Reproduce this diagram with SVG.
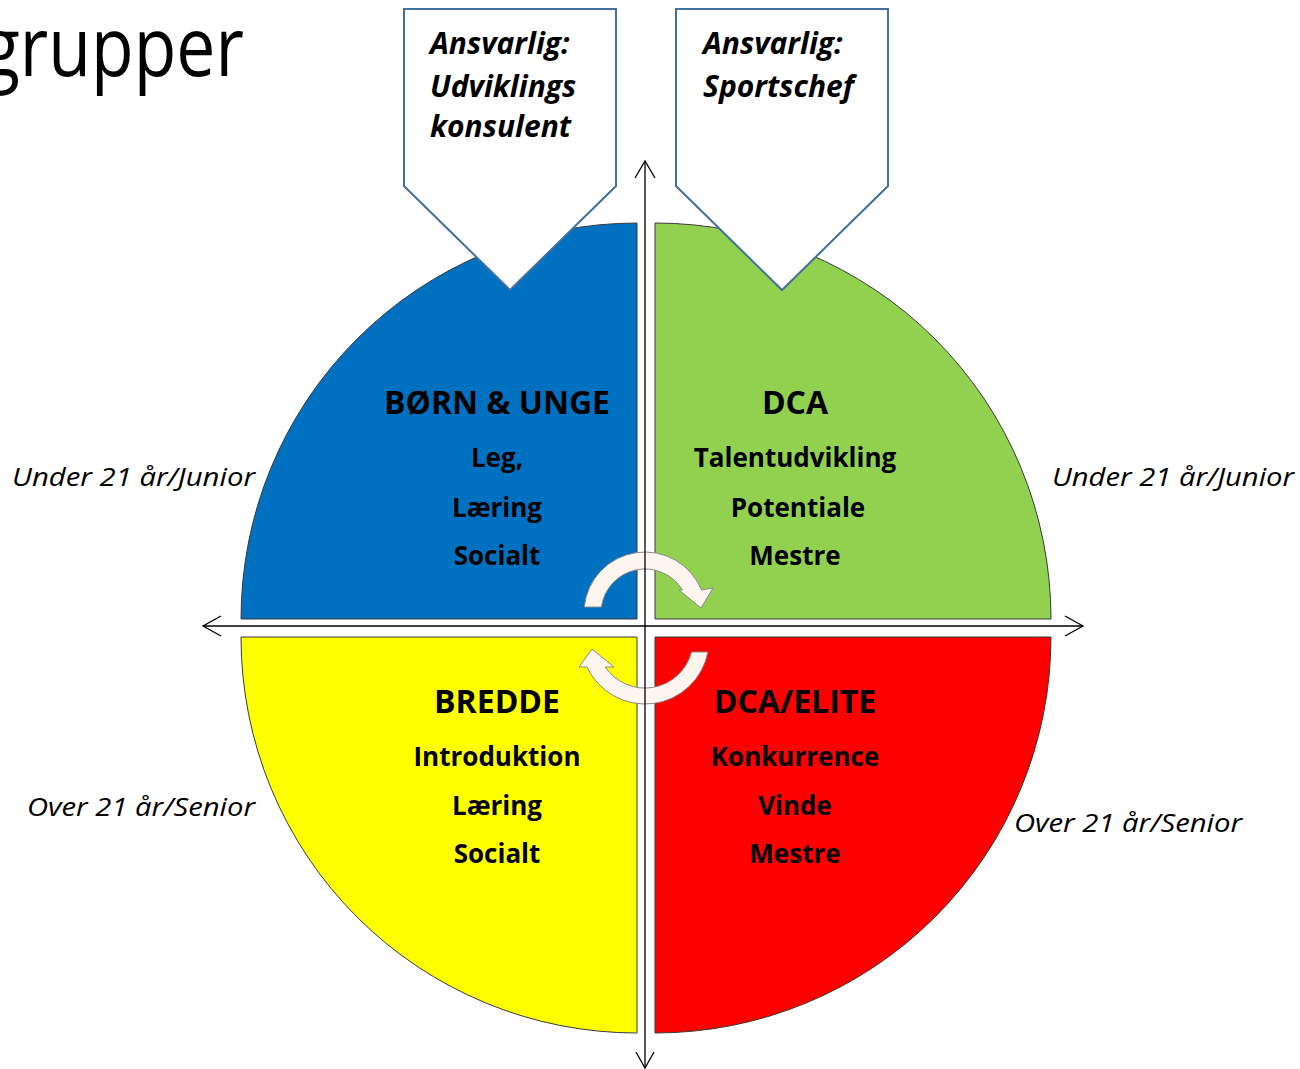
<svg xmlns="http://www.w3.org/2000/svg" width="1300" height="1069" viewBox="0 0 1300 1069">
<defs>
<style>
.q{stroke:#3a3a3a;stroke-width:1}
.qt{font-family:"Open Sans","Liberation Sans",sans-serif;font-weight:bold;fill:#000;text-anchor:middle}
.h{font-size:32px}
.b{font-size:26px}
.side{font-family:"Open Sans","Liberation Sans",sans-serif;font-style:italic;font-size:26px;fill:#000}
.call{fill:#fff;stroke:#41719C;stroke-width:2}
.ct{font-family:"Open Sans","Liberation Sans",sans-serif;font-style:italic;font-weight:bold;font-size:30px;fill:#000}
.ax{stroke:#000;stroke-width:1.3;fill:none}
.cyc{fill:#FDF6EE;stroke:#8a8a8a;stroke-width:1}
</style>
</defs>
<rect width="1300" height="1069" fill="#fff"/>
<g id="title"><text x="-18" y="76" font-family="Open Sans, Liberation Sans, sans-serif" font-size="82" textLength="262" lengthAdjust="spacingAndGlyphs" fill="#000">grupper</text></g>

<g id="q-born">
<path class="q" d="M637,619 L241,619 A396,396 0 0 1 637,223 Z" fill="#0070C0"/>
<text class="qt h" x="497" y="414">BØRN &amp; UNGE</text>
<text class="qt b" x="497" y="467">Leg,</text>
<text class="qt b" x="497" y="517">Læring</text>
<text class="qt b" x="497" y="565">Socialt</text>
</g>
<g id="q-dca">
<path class="q" d="M655,619 L655,223 A396,396 0 0 1 1051,619 Z" fill="#92D050"/>
<text class="qt h" x="795" y="414">DCA</text>
<text class="qt b" x="795" y="467">Talentudvikling</text>
<text class="qt b" x="798" y="517">Potentiale</text>
<text class="qt b" x="795" y="565">Mestre</text>
</g>
<g id="q-bredde">
<path class="q" d="M637,637 L637,1033 A396,396 0 0 1 241,637 Z" fill="#FFFF00"/>
<text class="qt h" x="497" y="713">BREDDE</text>
<text class="qt b" x="497" y="766">Introduktion</text>
<text class="qt b" x="497" y="815">Læring</text>
<text class="qt b" x="497" y="863">Socialt</text>
</g>
<g id="q-elite">
<path class="q" d="M655,637 L1051,637 A396,396 0 0 1 655,1033 Z" fill="#FF0000"/>
<text class="qt h" x="795" y="713">DCA/ELITE</text>
<text class="qt b" x="795" y="766">Konkurrence</text>
<text class="qt b" x="795" y="815">Vinde</text>
<text class="qt b" x="795" y="863">Mestre</text>
</g>

<g id="callout-left">
<polygon class="call" points="404,9 616,9 616,186 510,290 404,186"/>
<text class="ct" x="430" y="54">Ansvarlig:</text>
<text class="ct" x="430" y="97">Udviklings</text>
<text class="ct" x="430" y="137">konsulent</text>
</g>
<g id="callout-right">
<polygon class="call" points="676,9 888,9 888,186 782,290 676,186"/>
<text class="ct" x="703" y="54">Ansvarlig:</text>
<text class="ct" x="703" y="97">Sportschef</text>
</g>

<g id="labels">
<text class="side" x="12" y="486" textLength="243" lengthAdjust="spacingAndGlyphs">Under 21 år/Junior</text>
<text class="side" x="1052" y="486" textLength="242" lengthAdjust="spacingAndGlyphs">Under 21 år/Junior</text>
<text class="side" x="27" y="816" textLength="228" lengthAdjust="spacingAndGlyphs">Over 21 år/Senior</text>
<text class="side" x="1014" y="832" textLength="228" lengthAdjust="spacingAndGlyphs">Over 21 år/Senior</text>
</g>

<g id="connectors">
<path class="cyc" d="M584.3,607 A61,61 0 0 1 701.5,590 L713,588 L701,608 L679,590 L682.5,590 A44,44 0 0 0 601.4,607 Z"/>
<path class="cyc" d="M707.9,652 A64,64 0 0 1 587,667 L579,667 L592,649 L614,667 L605.3,667 A48,48 0 0 0 691.5,652 Z"/>
<line class="ax" x1="203" y1="626" x2="1083" y2="626"/>
<polyline class="ax" points="221,616 203,626 221,636"/>
<polyline class="ax" points="1065,616 1083,626 1065,636"/>
<line class="ax" x1="645" y1="161" x2="645" y2="1068"/>
<polyline class="ax" points="635,178 645,161 655,178"/>
<polyline class="ax" points="636,1052 645,1068 654,1052"/>
</g>
</svg>
